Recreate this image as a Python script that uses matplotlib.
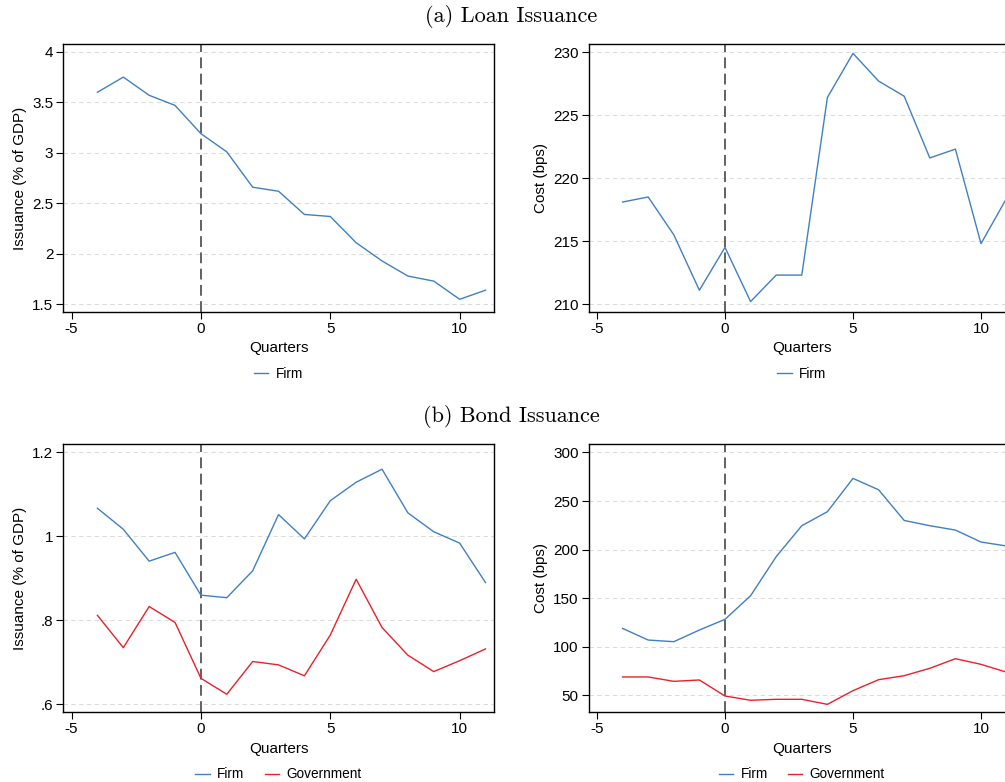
import matplotlib

matplotlib.use("Agg")
import matplotlib.pyplot as plt
from matplotlib.ticker import FuncFormatter

plt.rcParams["font.family"] = ["Liberation Sans", "DejaVu Sans"]

quarters = [-4, -3, -2, -1, 0, 1, 2, 3, 4, 5, 6, 7, 8, 9, 10, 11]

loan_issuance_firm = [3.60, 3.75, 3.57, 3.47, 3.19, 3.01, 2.66, 2.62,
                      2.39, 2.37, 2.11, 1.93, 1.78, 1.73, 1.55, 1.64]
loan_cost_firm = [218.1, 218.5, 215.5, 211.1, 214.5, 210.2, 212.3, 212.3,
                  226.4, 229.9, 227.7, 226.5, 221.6, 222.3, 214.8, 218.4]

bond_issuance_firm = [1.067, 1.017, 0.941, 0.962, 0.860, 0.854, 0.918, 1.052,
                      0.994, 1.085, 1.129, 1.160, 1.056, 1.011, 0.984, 0.890]
bond_issuance_gov = [0.812, 0.735, 0.833, 0.795, 0.662, 0.624, 0.702, 0.694,
                     0.668, 0.765, 0.898, 0.783, 0.717, 0.678, 0.704, 0.732]
bond_cost_firm = [118.9, 106.9, 105.2, 117.2, 128.2, 152.5, 192.7, 224.6,
                  239.0, 273.3, 261.6, 230.0, 224.6, 220.1, 207.8, 203.7]
bond_cost_gov = [68.9, 68.9, 64.4, 65.8, 49.3, 44.9, 45.9, 45.9,
                 40.7, 54.8, 66.1, 70.2, 77.8, 87.7, 81.9, 73.8]

x_ticks = [-5, 0, 5, 10]
loan_issuance_ticks = [1.5, 2, 2.5, 3, 3.5, 4]
loan_cost_ticks = [210, 215, 220, 225, 230]
bond_issuance_ticks = [0.6, 0.8, 1.0, 1.2]
bond_cost_ticks = [50, 100, 150, 200, 250, 300]

BLUE = "#3f80c3"
RED = "#e8212b"


def stata_num(v, _pos=None):
    # Stata drops the leading zero: .8 instead of 0.8
    s = f"{v:g}"
    if s.startswith("0."):
        s = s[1:]
    return s


def style_axes(ax, yticks, ylim, ylabel):
    ax.set_xlim(-5.33, 11.33)
    ax.set_ylim(*ylim)
    ax.set_xticks(x_ticks)
    ax.set_yticks(yticks)
    ax.yaxis.set_major_formatter(FuncFormatter(stata_num))
    ax.xaxis.set_major_formatter(FuncFormatter(stata_num))
    ax.tick_params(direction="out", length=5, width=0.8, labelsize=11, pad=2)
    for sp in ax.spines.values():
        sp.set_linewidth(1.0)
    ax.grid(axis="y", color="#dcdcdc", linestyle=(0, (4, 3)), linewidth=0.8)
    ax.set_axisbelow(True)
    ax.axvline(0, color="#555555", linestyle=(0, (6, 3)), linewidth=1.3, zorder=1.5)
    ax.set_xlabel("Quarters", fontsize=11, labelpad=4)
    ax.set_ylabel(ylabel, fontsize=11, labelpad=4)


fig = plt.figure(figsize=(10.05, 7.82), dpi=100)

W1 = 0.4289
W2 = 0.4244
H = 0.343
ax_a1 = fig.add_axes([0.0627, 0.601, W1, H])
ax_a2 = fig.add_axes([0.5856, 0.601, W2, H])
ax_b1 = fig.add_axes([0.0627, 0.0891, W1, H])
ax_b2 = fig.add_axes([0.5856, 0.0891, W2, H])

ax_a1.plot(quarters, loan_issuance_firm, color=BLUE, lw=1.0, label="Firm")
style_axes(ax_a1, loan_issuance_ticks, (1.424, 4.08), "Issuance (% of GDP)")

ax_a2.plot(quarters, loan_cost_firm, color=BLUE, lw=1.0, label="Firm")
style_axes(ax_a2, loan_cost_ticks, (209.37, 230.66), "Cost (bps)")

ax_b1.plot(quarters, bond_issuance_firm, color=BLUE, lw=1.0, label="Firm")
ax_b1.plot(quarters, bond_issuance_gov, color=RED, lw=1.0, label="Government")
style_axes(ax_b1, bond_issuance_ticks, (0.581, 1.2198), "Issuance (% of GDP)")

ax_b2.plot(quarters, bond_cost_firm, color=BLUE, lw=1.0, label="Firm")
ax_b2.plot(quarters, bond_cost_gov, color=RED, lw=1.0, label="Government")
style_axes(ax_b2, bond_cost_ticks, (32.5, 308.6), "Cost (bps)")

for ax in (ax_a1, ax_a2, ax_b1, ax_b2):
    n = len(ax.get_lines()) - 1
    ax.legend(loc="center", bbox_to_anchor=(0.5, -0.231), ncol=n, frameon=False,
              fontsize=9.8, handlelength=1.05, handletextpad=0.55, columnspacing=1.5)

fig.text(0.509, 0.979, "(a) Loan Issuance", family="cmr10", fontsize=16,
         ha="center", va="center")
fig.text(0.509, 0.467, "(b) Bond Issuance", family="cmr10", fontsize=16,
         ha="center", va="center")

fig.savefig("out.png", dpi=100)
